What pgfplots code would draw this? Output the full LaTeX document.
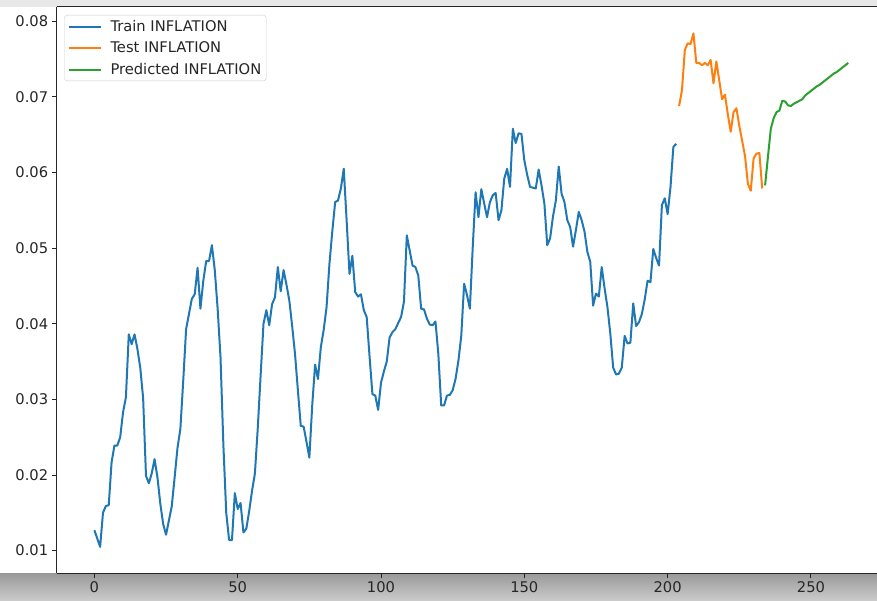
\documentclass[border=0pt]{standalone}
\usepackage{fontspec}
\setmainfont{DejaVu Sans}
\usepackage{pgfplots}
\pgfplotsset{compat=1.18}
\usepackage{pgfplotstable}
\definecolor{tabblue}{HTML}{1F77B4}
\definecolor{taborange}{HTML}{FF7F0E}
\definecolor{tabgreen}{HTML}{2CA02C}

\pgfplotstableread{
x y
0 0.0127
1 0.0116
2 0.0105
3 0.0150
4 0.0159
5 0.0160
6 0.0217
7 0.0239
8 0.0239
9 0.0250
10 0.0283
11 0.0303
12 0.0386
13 0.0373
14 0.0386
15 0.0367
16 0.0342
17 0.0302
18 0.0199
19 0.0189
20 0.0202
21 0.0221
22 0.0197
23 0.0162
24 0.0135
25 0.0121
26 0.0140
27 0.0159
28 0.0197
29 0.0236
30 0.0261
31 0.0325
32 0.0393
33 0.0413
34 0.0433
35 0.0439
36 0.0474
37 0.0420
38 0.0457
39 0.0483
40 0.0483
41 0.0504
42 0.0471
43 0.0420
44 0.0356
45 0.0240
46 0.0150
47 0.0114
48 0.0114
49 0.0176
50 0.0155
51 0.0163
52 0.0124
53 0.0129
54 0.0152
55 0.0179
56 0.0202
57 0.0262
58 0.0332
59 0.0400
60 0.0418
61 0.0398
62 0.0426
63 0.0435
64 0.0475
65 0.0443
66 0.0471
67 0.0452
68 0.0431
69 0.0397
70 0.0360
71 0.0312
72 0.0265
73 0.0264
74 0.0244
75 0.0223
76 0.0292
77 0.0346
78 0.0327
79 0.0369
80 0.0392
81 0.0422
82 0.0479
83 0.0522
84 0.0561
85 0.0563
86 0.0579
87 0.0605
88 0.0537
89 0.0466
90 0.0490
91 0.0442
92 0.0436
93 0.0439
94 0.0418
95 0.0409
96 0.0357
97 0.0307
98 0.0305
99 0.0286
100 0.0322
101 0.0337
102 0.0350
103 0.0382
104 0.0389
105 0.0393
106 0.0401
107 0.0409
108 0.0429
109 0.0517
110 0.0497
111 0.0477
112 0.0475
113 0.0464
114 0.0420
115 0.0419
116 0.0407
117 0.0399
118 0.0398
119 0.0403
120 0.0360
121 0.0292
122 0.0292
123 0.0305
124 0.0306
125 0.0312
126 0.0327
127 0.0351
128 0.0384
129 0.0453
130 0.0438
131 0.0420
132 0.0501
133 0.0574
134 0.0541
135 0.0578
136 0.0559
137 0.0541
138 0.0561
139 0.0570
140 0.0573
141 0.0537
142 0.0550
143 0.0592
144 0.0605
145 0.0581
146 0.0658
147 0.0639
148 0.0652
149 0.0651
150 0.0616
151 0.0597
152 0.0581
153 0.0580
154 0.0579
155 0.0604
156 0.0583
157 0.0559
158 0.0504
159 0.0513
160 0.0542
161 0.0563
162 0.0608
163 0.0572
164 0.0561
165 0.0537
166 0.0528
167 0.0502
168 0.0524
169 0.0548
170 0.0537
171 0.0522
172 0.0495
173 0.0482
174 0.0424
175 0.0440
176 0.0436
177 0.0475
178 0.0447
179 0.0422
180 0.0387
181 0.0342
182 0.0333
183 0.0334
184 0.0342
185 0.0384
186 0.0374
187 0.0375
188 0.0427
189 0.0397
190 0.0402
191 0.0413
192 0.0432
193 0.0457
194 0.0455
195 0.0499
196 0.0487
197 0.0477
198 0.0557
199 0.0566
200 0.0545
201 0.0581
202 0.0634
203 0.0638
}\train

\pgfplotstableread{
x y
204 0.0688
205 0.0709
206 0.0762
207 0.0771
208 0.0770
209 0.0784
210 0.0745
211 0.0745
212 0.0742
213 0.0745
214 0.0742
215 0.0749
216 0.0718
217 0.0747
218 0.0722
219 0.0697
220 0.0703
221 0.0677
222 0.0654
223 0.0680
224 0.0685
225 0.0662
226 0.0642
227 0.0622
228 0.0585
229 0.0576
230 0.0619
231 0.0625
232 0.0626
233 0.0579
}\test

\pgfplotstableread{
x y
234 0.0583
235 0.0621
236 0.0658
237 0.0672
238 0.0680
239 0.0682
240 0.0695
241 0.0694
242 0.0689
243 0.0688
244 0.0691
245 0.0693
246 0.0695
247 0.0697
248 0.0702
249 0.0705
250 0.0708
251 0.0711
252 0.0714
253 0.0716
254 0.0719
255 0.0722
256 0.0725
257 0.0728
258 0.0731
259 0.0733
260 0.0736
261 0.0739
262 0.0742
263 0.0745
}\pred

\begin{document}
\begin{tikzpicture}
\useasboundingbox (0,0) rectangle (877pt,601pt);
\fill[white] (0,0) rectangle (877pt,601pt);
\fill[black!9] (0,594pt) rectangle (877pt,601pt);
\shade[top color=black!40, bottom color=black!20] (0,0) rectangle (877pt,27.7pt);
\begin{axis}[
  at={(56.7pt,27.7pt)}, anchor=south west,
  scale only axis, width=820.3pt, height=566.3pt,
  xmin=-13.15, xmax=273.05, ymin=0.0070, ymax=0.0819,
  axis x line*=box, axis y line*=left,
  xtick pos=left, ytick pos=left,
  axis line style={black!85, line width=1pt},
  axis background/.style={fill=white},
  tick align=outside,
  major tick length=5pt,
  every tick/.style={black!85, line width=1pt},
  xtick={0,50,100,150,200,250},
  ytick={0.01,0.02,0.03,0.04,0.05,0.06,0.07,0.08},
  scaled y ticks=false,
  /pgf/number format/assume math mode=true,
  yticklabel style={/pgf/number format/fixed, /pgf/number format/fixed zerofill, /pgf/number format/precision=2},
  ticklabel style={font=\fontsize{14.7}{17}\selectfont, text=black!85},
  legend style={at={(0,1)}, anchor=north west, xshift=7.6pt, yshift=-8pt,
    draw=black!20, rounded corners=3pt, fill=white, fill opacity=0.8, text opacity=1,
    font=\fontsize{14.7}{17}\selectfont, inner xsep=3pt, inner ysep=3pt, row sep=5pt,
    nodes={inner sep=2pt, text=black!85},
    /tikz/every odd column/.append style={column sep=7pt}},
  legend cell align=left,
  legend image code/.code={\draw[#1] (0pt,0pt) -- (32pt,0pt);},
]
\addplot[tabblue, line width=2pt, line join=round] table[x=x,y=y] {\train};
\addlegendentry{Train INFLATION}
\addplot[taborange, line width=2pt, line join=round] table[x=x,y=y] {\test};
\addlegendentry{Test INFLATION}
\addplot[tabgreen, line width=2pt, line join=round] table[x=x,y=y] {\pred};
\addlegendentry{Predicted INFLATION\hspace{8pt}}
\end{axis}
\end{tikzpicture}
\end{document}
